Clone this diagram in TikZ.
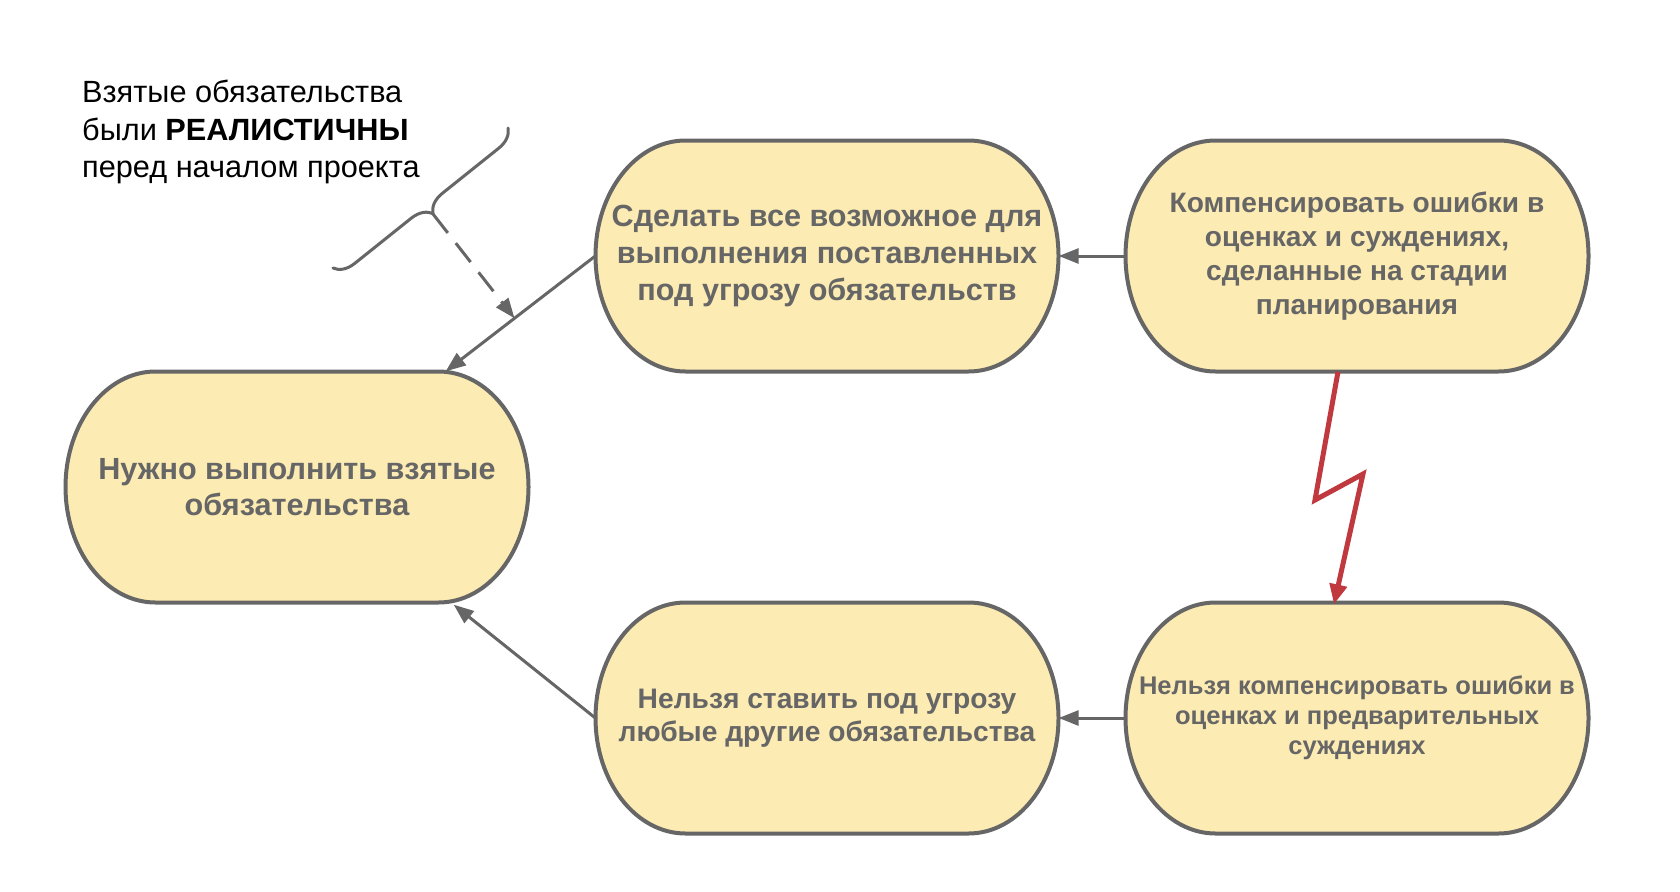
\documentclass[tikz,border=0pt]{standalone}
\usepackage{fontspec}
\setmainfont{Liberation Sans}
\usetikzlibrary{arrows.meta,calc,decorations.pathreplacing}
\definecolor{boxfill}{HTML}{FCEBB2}
\definecolor{boxedge}{HTML}{666666}
\definecolor{txtgray}{HTML}{666666}
\definecolor{arrgray}{HTML}{666666}
\definecolor{boltred}{HTML}{C0393F}
\newcommand\myblob[6]{%
  \draw[blob] (#2-141.5,#3-115.5) -- (#2+141.5,#3-115.5)
    arc[start angle=90,end angle=-90,x radius=90pt,y radius=115.5pt]
    -- (#2-141.5,#3+115.5)
    arc[start angle=270,end angle=90,x radius=90pt,y radius=115.5pt] -- cycle;
  \node[lbl, font=\bfseries\fontsize{#4}{#5}\selectfont] (#1) at (#2,#3) {#6};
}
\begin{document}
\begin{tikzpicture}[x=1pt,y=-1pt,
  blob/.style={draw=boxedge, fill=boxfill, line width=4pt},
  lbl/.style={text=txtgray, align=center, inner sep=0pt,
    minimum width=463pt, minimum height=231pt},
  conn/.style={draw=arrgray, line width=3pt, -{Triangle[length=20pt,width=15pt]}},
  dconn/.style={conn, dash pattern=on 24pt off 13pt},
  boltline/.style={draw=boltred, line width=5pt, miter limit=10,
    -{Triangle[length=20pt,width=17pt]}},
  bracel/.style={draw=arrgray, line width=3pt, line cap=round,
    decorate, decoration={brace, amplitude=20pt}},
  note/.style={text=black, align=left, anchor=north west, inner sep=0pt,
    font=\fontsize{30.7}{37.5}\selectfont}
  ]
\useasboundingbox (0,0) rectangle (1680,891);
\fill[white] (0,0) rectangle (1680,891);

\myblob{lf}{297}{487}{30.6}{36.5}{Нужно выполнить взятые\\обязательства}
\myblob{tm}{827}{256}{30.6}{37}{Сделать все возможное для\\выполнения поставленных\\под угрозу обязательств}
\myblob{tr}{1357}{256}{28.1}{34}{Компенсировать ошибки в\\оценках и суждениях,\\сделанные на стадии\\планирования}
\myblob{bm}{827}{718}{28.2}{33.5}{Нельзя ставить под угрозу\\любые другие обязательства}
\myblob{br}{1357}{718}{25.5}{30}{Нельзя компенсировать ошибки в\\оценках и предварительных\\суждениях}

\draw[conn] (tr.west) -- (tm.east);
\draw[conn] (br.west) -- (bm.east);
\draw[conn] (tm.west) -- coordinate[pos=0.54] (hit) ($(lf.north east)+(-83,0)$);
\draw[conn] (bm.west) -- ($(lf.south east)+(-75,2)$);

\coordinate (b1) at (1315,500);
\coordinate (b2) at (1363,474);
\draw[boltline] ($(tr.south)+(-19,0)$) -- (b1) -- (b2) -- ($(br.north)+(-23,2)$);

\node[note] (nt) at (82,80) {Взятые обязательства\\были \textbf{РЕАЛИСТИЧНЫ}\\перед началом проекта};

\coordinate (bra) at (508,128);
\coordinate (brb) at (333,268);
\coordinate (btip) at (433,214);
\draw[bracel] (bra) -- (brb);
\draw[dconn] (btip) -- (hit);
\end{tikzpicture}
\end{document}
